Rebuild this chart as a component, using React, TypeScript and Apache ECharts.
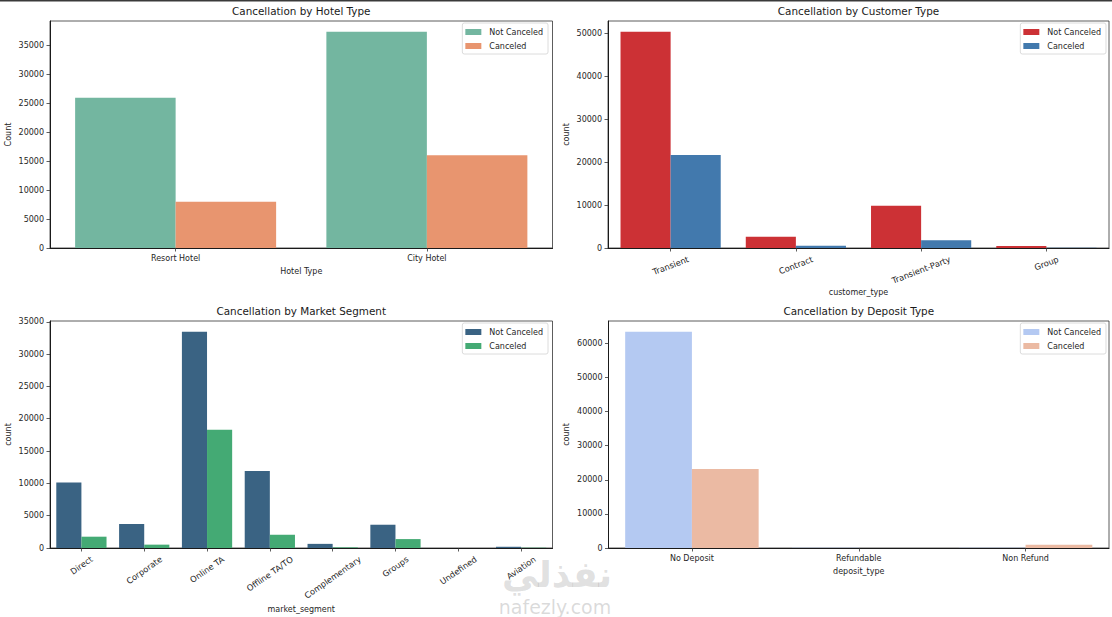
import React, { useEffect, useRef } from "react";
import * as echarts from "echarts";

// ---------- data ----------
const hotelTypes = ["Resort Hotel", "City Hotel"];
const hotelNotCanceled = [25992, 37379];
const hotelCanceled = [7976, 16049];
const hotelTicks = [0, 5000, 10000, 15000, 20000, 25000, 30000, 35000];

const customerTypes = ["Transient", "Contract", "Transient-Party", "Group"];
const customerNotCanceled = [50450, 2640, 9860, 480];
const customerCanceled = [21700, 540, 1790, 60];
const customerTicks = [0, 10000, 20000, 30000, 40000, 50000];

const marketSegments = ["Direct", "Corporate", "Online TA", "Offline TA/TO", "Complementary", "Groups", "Undefined", "Aviation"];
const marketNotCanceled = [10150, 3700, 33450, 11930, 640, 3600, 0, 190];
const marketCanceled = [1750, 520, 18300, 2050, 100, 1380, 2, 50];
const marketTicks = [0, 5000, 10000, 15000, 20000, 25000, 30000, 35000];

const depositTypes = ["No Deposit", "Refundable", "Non Refund"];
const depositNotCanceled = [63370, 100, 40];
const depositCanceled = [23180, 10, 950];
const depositTicks = [0, 10000, 20000, 30000, 40000, 50000, 60000];

const seriesNames = ["Not Canceled", "Canceled"];

// ---------- styling ----------
const FONT = "DejaVu Sans";
const TXT = "#262626";

type Panel = {
  title: string;
  cats: string[];
  a: number[];
  b: number[];
  ticks: number[];
  colors: string[];
  xName: string;
  yName: string;
  grid: { left: number; top: number; width: number; height: number };
  rotate: number;
  xNameGap: number;
  legendRight: number;
  legendTop: number;
};

const panels: Panel[] = [
  {
    title: "Cancellation by Hotel Type",
    cats: hotelTypes, a: hotelNotCanceled, b: hotelCanceled, ticks: hotelTicks,
    colors: ["#73b6a0", "#e8956f"],
    xName: "Hotel Type", yName: "Count",
    grid: { left: 50, top: 21, width: 502.5, height: 227 },
    rotate: 0, xNameGap: 19.5, legendRight: 564, legendTop: 23,
  },
  {
    title: "Cancellation by Customer Type",
    cats: customerTypes, a: customerNotCanceled, b: customerCanceled, ticks: customerTicks,
    colors: ["#cc3135", "#4279ad"],
    xName: "customer_type", yName: "count",
    grid: { left: 608, top: 21, width: 501, height: 227 },
    rotate: 21, xNameGap: 40.5, legendRight: 6, legendTop: 23,
  },
  {
    title: "Cancellation by Market Segment",
    cats: marketSegments, a: marketNotCanceled, b: marketCanceled, ticks: marketTicks,
    colors: ["#3a6383", "#44aa74"],
    xName: "market_segment", yName: "count",
    grid: { left: 50, top: 321, width: 502.5, height: 227 },
    rotate: 35, xNameGap: 57, legendRight: 564, legendTop: 323,
  },
  {
    title: "Cancellation by Deposit Type",
    cats: depositTypes, a: depositNotCanceled, b: depositCanceled, ticks: depositTicks,
    colors: ["#b4c9f2", "#ebbaa3"],
    xName: "deposit_type", yName: "count",
    grid: { left: 608.5, top: 321, width: 500.5, height: 227 },
    rotate: 0, xNameGap: 19, legendRight: 6, legendTop: 323,
  },
];

const ROT_SIZE = 8.3;

function measure(s: string, size: number): number {
  const c = document.createElement("canvas").getContext("2d");
  if (!c) return s.length * size * 0.6;
  c.font = `${size}px "${FONT}"`;
  return c.measureText(s).width;
}

function buildXAxis(p: Panel, i: number) {
  const base: any = {
    type: "category",
    gridIndex: i,
    data: p.cats,
    name: p.xName,
    nameLocation: "middle",
    nameGap: p.xNameGap,
    nameTextStyle: { fontFamily: FONT, fontSize: 8, color: TXT },
    axisLine: { show: true, lineStyle: { color: "#1a1a1a", width: 1.2 } },
    axisTick: { show: true, alignWithLabel: true, length: 3.5, lineStyle: { color: "#333", width: 0.8 } },
    splitLine: { show: false },
  };
  if (!p.rotate) {
    base.axisLabel = { interval: 0, margin: 6, fontFamily: FONT, fontSize: 8, color: TXT };
  } else {
    const th = (p.rotate * Math.PI) / 180;
    const rich: any = {};
    p.cats.forEach((c, k) => {
      const w = measure(c, ROT_SIZE);
      const H = w * Math.sin(th) + 9 * Math.cos(th);
      const D = Math.max(0, 6.5 + H / 2 - 2);
      rich["p" + k] = {
        fontFamily: FONT, fontSize: ROT_SIZE, color: TXT,
        padding: [2 * D * Math.cos(th), 2 * D * Math.sin(th), 0, 0],
      };
    });
    base.axisLabel = {
      interval: 0, margin: 2, rotate: p.rotate, align: "center", verticalAlign: "middle",
      fontFamily: FONT, fontSize: ROT_SIZE, color: TXT,
      formatter: (v: string, idx: number) => `{p${idx}|${v}}`,
      rich,
    };
  }
  return base;
}

function buildYAxis(p: Panel, i: number) {
  const max = Math.max(...p.a, ...p.b) * 1.05;
  return {
    type: "value",
    gridIndex: i,
    min: 0,
    max,
    name: p.yName,
    nameLocation: "middle",
    nameGap: 38,
    nameTextStyle: { fontFamily: FONT, fontSize: 8, color: TXT },
    axisLine: { show: true, lineStyle: { color: "#1a1a1a", width: 1 } },
    axisTick: { show: true, length: 3.5, customValues: p.ticks, lineStyle: { color: "#333", width: 0.8 } },
    axisLabel: {
      customValues: p.ticks, margin: 6, fontFamily: FONT, fontSize: 8, color: TXT,
      formatter: (v: number) => String(Math.round(v)),
    },
    splitLine: { show: false },
  };
}

function buildOption() {
  return {
    animation: false,
    backgroundColor: "#ffffff",
    title: panels.map((p) => ({
      text: p.title,
      left: p.grid.left + p.grid.width / 2,
      top: p.grid.top - 15,
      padding: 0,
      textAlign: "center",
      textStyle: { fontFamily: FONT, fontSize: 10.4, fontWeight: "normal", color: "#1a1a1a" },
    })),
    grid: panels.map((p) => ({
      ...p.grid,
      show: true,
      borderColor: "#333",
      borderWidth: 0.8,
      backgroundColor: "transparent",
      containLabel: false,
    })),
    legend: panels.map((p) => ({
      orient: "vertical",
      right: p.legendRight,
      top: p.legendTop,
      icon: "rect",
      itemWidth: 16,
      itemHeight: 6,
      itemGap: 4,
      padding: [4, 5, 3, 3],
      borderColor: "#dcdcdc",
      borderWidth: 1,
      borderRadius: 2,
      backgroundColor: "rgba(255,255,255,0.85)",
      selectedMode: false,
      textStyle: { fontFamily: FONT, fontSize: 8, color: TXT, lineHeight: 10, padding: [0, 0, 0, 3] },
      data: seriesNames.map((n, k) => ({ name: n, itemStyle: { color: p.colors[k] } })),
    })),
    xAxis: panels.map(buildXAxis),
    yAxis: panels.map(buildYAxis),
    series: panels.flatMap((p, i) =>
      [p.a, p.b].map((vals, k) => ({
        type: "bar",
        name: seriesNames[k],
        xAxisIndex: i,
        yAxisIndex: i,
        data: vals,
        barGap: "0%",
        barCategoryGap: "20%",
        itemStyle: { color: p.colors[k] },
        emphasis: { disabled: true },
      }))
    ),
    graphic: [
      {
        type: "rect",
        shape: { x: 0, y: 0, width: 1112, height: 1.5 },
        style: { fill: "#3a3a3a" },
        silent: true,
      },
      {
        type: "text",
        x: 557,
        y: 574,
        z: 100,
        silent: true,
        style: {
          text: "نفذلي",
          fontFamily: FONT,
          fontSize: 36,
          fontWeight: "bold",
          fill: "rgba(150,150,150,0.3)",
          align: "center",
          verticalAlign: "middle",
        },
      },
      {
        type: "text",
        x: 555,
        y: 607,
        z: 100,
        silent: true,
        style: {
          text: "nafezly.com",
          fontFamily: FONT,
          fontSize: 19,
          fill: "rgba(150,150,150,0.35)",
          align: "center",
          verticalAlign: "middle",
        },
      },
    ],
  };
}

export default function App() {
  const ref = useRef<HTMLDivElement>(null);
  useEffect(() => {
    if (!ref.current) return;
    const chart = echarts.init(ref.current, undefined, { renderer: "svg" });
    chart.setOption(buildOption() as any);
    return () => chart.dispose();
  }, []);
  return (
    <div
      ref={ref}
      style={{ position: "absolute", left: 0, top: 0, width: 1112, height: 617, background: "#fff" }}
    />
  );
}
